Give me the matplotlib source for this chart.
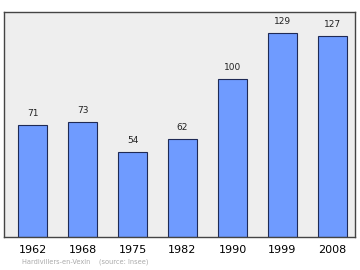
import matplotlib
matplotlib.use("Agg")
import matplotlib.pyplot as plt
import numpy as np

years = ["1962", "1968", "1975", "1982", "1990", "1999", "2008"]
population = [71, 73, 54, 62, 100, 129, 127]

fig = plt.figure(figsize=(3.6, 2.7), dpi=100)
ax = fig.add_axes([4/360, 1 - 237/270, 351/360, 225/270])
ax.set_facecolor("#eeeeee")

x = np.arange(len(years))
ax.bar(x, population, width=0.58, color="#6f9bff", edgecolor="#1f2a55", linewidth=0.8, zorder=2)
for xi, v in zip(x, population):
    ax.text(xi, v + 4.5, str(v), ha="center", va="bottom", fontsize=6.5, color="#222222")

ax.set_xlim(-0.57, 6.45)
ax.set_ylim(0, 142.5)
ax.set_yticks([])
ax.set_xticks(x)
ax.set_xticklabels(years, fontsize=8)
ax.tick_params(axis="x", length=0, pad=6)
for s in ax.spines.values():
    s.set_color("#444444")
    s.set_linewidth(1)

fig.text(22/360, 1 - 262/270, "Hardivillers-en-Vexin    (source: Insee)", fontsize=4.8,
         color="#aaaaaa", va="center", ha="left")

fig.savefig("out.png", dpi=100)
